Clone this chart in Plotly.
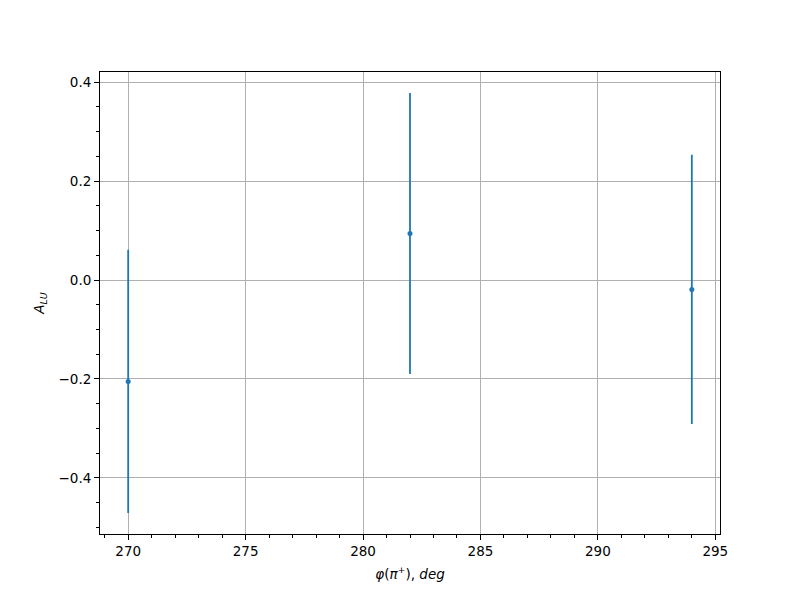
import plotly.graph_objects as go

phi = [270, 282, 294]
a_lu = [-0.205, 0.094, -0.019]
a_lu_err = [0.266, 0.284, 0.272]

x_ticks = [270, 275, 280, 285, 290, 295]
y_ticks = [-0.4, -0.2, 0.0, 0.2, 0.4]
y_tick_text = ["−0.4", "−0.2", "0.0", "0.2", "0.4"]

x_range = [268.8, 295.2]
y_range = [-0.5135, 0.4205]

fig = go.Figure()
fig.add_trace(go.Scatter(
    x=phi, y=a_lu, mode="markers",
    marker=dict(color="#1f77b4", size=5),
    error_y=dict(type="data", array=a_lu_err, visible=True,
                 color="#1f77b4", thickness=1.8, width=0),
    showlegend=False,
))

axis_common = dict(
    showline=True, linecolor="black", linewidth=1, mirror=True,
    ticks="outside", ticklen=5, tickwidth=1, tickcolor="black",
    showgrid=True, gridcolor="#b0b0b0", gridwidth=1,
    zeroline=False,
    tickfont=dict(family="DejaVu Sans", size=13.5, color="black"),
)

fig.update_xaxes(
    **axis_common, range=x_range, tickmode="array", tickvals=x_ticks,
    ticktext=[str(v) for v in x_ticks],
    minor=dict(ticks="outside", ticklen=3, tickwidth=1, tickcolor="black",
               dtick=1, tick0=270, showgrid=False),
    title=dict(text="<i>φ</i>(<i>π</i><sup>+</sup>), <i>deg</i>",
               font=dict(family="DejaVu Sans", size=13.5, color="black"),
               standoff=11),
)
fig.update_yaxes(
    **axis_common, range=y_range, tickmode="array", tickvals=y_ticks,
    ticktext=y_tick_text,
    minor=dict(ticks="outside", ticklen=3, tickwidth=1, tickcolor="black",
               dtick=0.05, tick0=0, showgrid=False),
    title=dict(text="<i>A</i><sub><i>LU</i></sub>",
               font=dict(family="DejaVu Sans", size=13.5, color="black"),
               standoff=10),
)

fig.update_layout(
    width=800, height=600,
    margin=dict(l=92, r=88, t=64, b=74, autoexpand=False),
    paper_bgcolor="white", plot_bgcolor="white",
    font=dict(family="DejaVu Sans", size=13.5, color="black"),
)

fig.write_html("out.html")
